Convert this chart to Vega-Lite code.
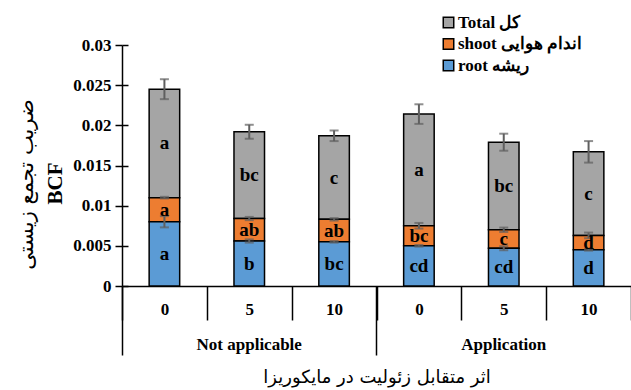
{
  "$schema": "https://vega.github.io/schema/vega-lite/v6.json",
  "width": 509,
  "height": 241,
  "autosize": {"type": "none"},
  "padding": {"left": 122, "top": 45, "right": 0, "bottom": 104},
  "background": "white",
  "config": {"view": {"stroke": null}, "font": "Liberation Serif"},
  "data": {
    "values": [
      {"cond": "Not applicable|0", "part": "Total", "value": 0.0245, "base": 0.0110, "err": 0.00124, "sig": "a"},
      {"cond": "Not applicable|0", "part": "shoot", "value": 0.0110, "base": 0.0080, "err": 0.0001, "sig": "a"},
      {"cond": "Not applicable|0", "part": "root", "value": 0.0080, "base": 0, "err": 0.0007, "sig": "a"},
      {"cond": "Not applicable|5", "part": "Total", "value": 0.0192, "base": 0.0084, "err": 0.00087, "sig": "bc"},
      {"cond": "Not applicable|5", "part": "shoot", "value": 0.0084, "base": 0.0056, "err": 0.0002, "sig": "ab"},
      {"cond": "Not applicable|5", "part": "root", "value": 0.0056, "base": 0, "err": 0.0002, "sig": "b"},
      {"cond": "Not applicable|10", "part": "Total", "value": 0.0187, "base": 0.0083, "err": 0.00066, "sig": "c"},
      {"cond": "Not applicable|10", "part": "shoot", "value": 0.0083, "base": 0.0055, "err": 0.00015, "sig": "ab"},
      {"cond": "Not applicable|10", "part": "root", "value": 0.0055, "base": 0, "err": 0.0001, "sig": "bc"},
      {"cond": "Application|0", "part": "Total", "value": 0.0214, "base": 0.0075, "err": 0.00122, "sig": "a"},
      {"cond": "Application|0", "part": "shoot", "value": 0.0075, "base": 0.0050, "err": 0.00035, "sig": "bc"},
      {"cond": "Application|0", "part": "root", "value": 0.0050, "base": 0, "err": 0.0001, "sig": "cd"},
      {"cond": "Application|5", "part": "Total", "value": 0.0179, "base": 0.0070, "err": 0.00106, "sig": "bc"},
      {"cond": "Application|5", "part": "shoot", "value": 0.0070, "base": 0.0047, "err": 0.00027, "sig": "c"},
      {"cond": "Application|5", "part": "root", "value": 0.0047, "base": 0, "err": 0.00025, "sig": "cd"},
      {"cond": "Application|10", "part": "Total", "value": 0.0167, "base": 0.0063, "err": 0.00134, "sig": "c"},
      {"cond": "Application|10", "part": "shoot", "value": 0.0063, "base": 0.0045, "err": 0.00035, "sig": "d"},
      {"cond": "Application|10", "part": "root", "value": 0.0045, "base": 0, "err": 0.0001, "sig": "d"}
    ]
  },
  "layer": [
    {
      "mark": {"type": "bar", "width": {"band": 0.36}, "stroke": "black", "strokeWidth": 1.5},
      "encoding": {
        "x": {
          "field": "cond",
          "type": "nominal",
          "scale": {
            "domain": ["Not applicable|0", "Not applicable|5", "Not applicable|10", "Application|0", "Application|5", "Application|10"],
            "paddingInner": 0,
            "paddingOuter": 0
          },
          "axis": {
            "orient": "bottom",
            "title": "اثر متقابل زئولیت در مایکوریزا",
            "titleFont": "DejaVu Sans",
            "titleFontSize": 18,
            "titleFontWeight": "normal",
            "titleColor": "black",
            "titleY": 91,
            "titleBaseline": "middle",
            "labelExpr": "split(datum.value, '|')[1]",
            "labelFont": "Liberation Serif",
            "labelFontSize": 17,
            "labelFontWeight": "bold",
            "labelColor": "black",
            "labelAngle": 0,
            "labelPadding": -19,
            "labelOverlap": false,
            "tickBand": "extent",
            "tickSize": 34,
            "tickColor": "black",
            "tickWidth": 1.5,
            "domainColor": "black",
            "domainWidth": 1.5,
            "grid": false
          }
        },
        "y": {
          "field": "value",
          "type": "quantitative",
          "scale": {"domain": [0, 0.03], "nice": false, "zero": true},
          "axis": {
            "orient": "left",
            "values": [0, 0.005, 0.01, 0.015, 0.02, 0.025, 0.03],
            "format": ".3~f",
            "labelFont": "Liberation Serif",
            "labelFontSize": 17,
            "labelFontWeight": "bold",
            "labelColor": "black",
            "labelPadding": 4,
            "tickSize": 7,
            "tickColor": "black",
            "tickWidth": 1.5,
            "domainColor": "black",
            "domainWidth": 1.5,
            "grid": false,
            "title": "BCF",
            "titleFont": "Liberation Serif",
            "titleFontSize": 21,
            "titleFontWeight": "bold",
            "titleColor": "black",
            "titleX": -67,
            "titleY": 138,
            "titleAngle": -90,
            "titleBaseline": "middle"
          }
        },
        "y2": {"field": "base"},
        "color": {
          "field": "part",
          "type": "nominal",
          "scale": {"domain": ["Total", "shoot", "root"], "range": ["#A5A5A5", "#ED7D31", "#5B9BD5"]},
          "legend": {
            "orient": "none",
            "legendX": 318,
            "legendY": -31,
            "title": null,
            "labelExpr": "datum.value == 'Total' ? 'Total  کل' : datum.value == 'shoot' ? 'shoot  اندام هوایی' : 'root  ریشه'",
            "labelFont": "Liberation Serif",
            "labelFontSize": 17,
            "labelFontWeight": "bold",
            "labelColor": "black",
            "labelOffset": 1,
            "symbolType": "square",
            "symbolSize": 110,
            "symbolStrokeColor": "black",
            "symbolStrokeWidth": 1.5,
            "rowPadding": 3.5
          }
        }
      }
    },
    {
      "mark": {"type": "errorbar", "ticks": true, "size": 9, "thickness": 2, "color": "#5f5f5f"},
      "encoding": {
        "x": {"field": "cond", "type": "nominal", "axis": null},
        "y": {"field": "value", "type": "quantitative", "axis": null},
        "yError": {"field": "err"}
      }
    },
    {
      "transform": [{"calculate": "(datum.value + datum.base) / 2", "as": "mid"}],
      "mark": {"type": "text", "font": "Liberation Serif", "fontSize": 19, "fontWeight": "bold", "color": "black", "baseline": "middle"},
      "encoding": {
        "x": {
          "field": "cond",
          "type": "nominal",
          "axis": {
            "orient": "bottom",
            "values": ["Not applicable|0", "Application|0"],
            "bandPosition": 0,
            "tickSize": 69,
            "tickColor": "black",
            "tickWidth": 1.5,
            "domain": false,
            "grid": false,
            "title": null,
            "labelExpr": "split(datum.value, '|')[0]",
            "labelOffset": 84.8,
            "labelPadding": -18.5,
            "labelFont": "Liberation Serif",
            "labelFontSize": 17,
            "labelFontWeight": "bold",
            "labelColor": "black",
            "labelAngle": 0,
            "labelOverlap": false
          }
        },
        "y": {
          "field": "mid",
          "type": "quantitative",
          "axis": {
            "orient": "left",
            "values": [0, 0.005, 0.01, 0.015, 0.02, 0.025, 0.03],
            "tickSize": -6,
            "tickColor": "black",
            "tickWidth": 1.5,
            "labels": false,
            "domain": false,
            "grid": false,
            "title": "ضریب تجمع زیستی",
            "titleFont": "DejaVu Sans",
            "titleFontSize": 21,
            "titleFontWeight": "normal",
            "titleColor": "black",
            "titleX": -96,
            "titleY": 139,
            "titleAngle": -90,
            "titleBaseline": "middle"
          }
        },
        "text": {"field": "sig"}
      }
    }
  ],
  "resolve": {"axis": {"x": "independent", "y": "independent"}}
}
